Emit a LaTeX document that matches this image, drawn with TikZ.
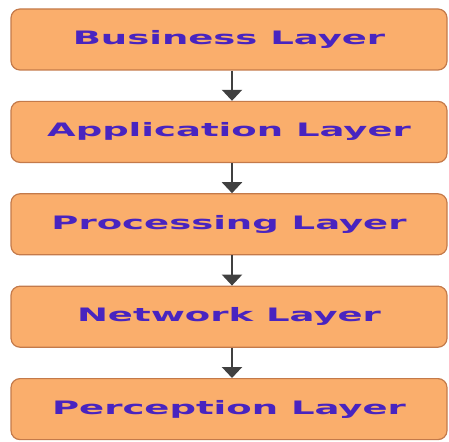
\documentclass[tikz,border=0pt]{standalone}
\usepackage{fontspec}
\usetikzlibrary{arrows.meta}
\newfontfamily\layerfont[FakeStretch=2.0]{DejaVu Sans Bold}
\definecolor{LayerOrange}{RGB}{250,174,108}
\definecolor{LayerEdge}{RGB}{196,122,74}
\definecolor{LayerText}{RGB}{72,36,192}

\begin{document}
\begin{tikzpicture}[x=1pt, y=-1pt,
    layer/.style={draw=LayerEdge, line width=1.2pt, rounded corners=9pt, fill=LayerOrange,
        minimum width=436pt, minimum height=61pt, inner sep=0pt,
        text=LayerText, font=\layerfont\fontsize{18.5}{20}\selectfont},
    flow/.style={draw=black!75, line width=2.2pt, -{Triangle[width=20pt,length=11pt]}}]
    \useasboundingbox (0,0) rectangle (449,441);
    \node[layer] (business) at (229,39.5) {Business Layer};
    \node[layer] (application) at (229,131.9) {Application Layer};
    \node[layer] (processing) at (229,224.3) {Processing Layer};
    \node[layer] (network) at (229,316.7) {Network Layer};
    \node[layer] (perception) at (229,409.1) {Perception Layer};
    \draw[flow] (business.south) ++(3,0) coordinate (b1) -- (b1 |- application.north);
    \draw[flow] (application.south) ++(3,0) coordinate (a1) -- (a1 |- processing.north);
    \draw[flow] (processing.south) ++(3,0) coordinate (p1) -- (p1 |- network.north);
    \draw[flow] (network.south) ++(3,0) coordinate (n1) -- (n1 |- perception.north);
\end{tikzpicture}
\end{document}
